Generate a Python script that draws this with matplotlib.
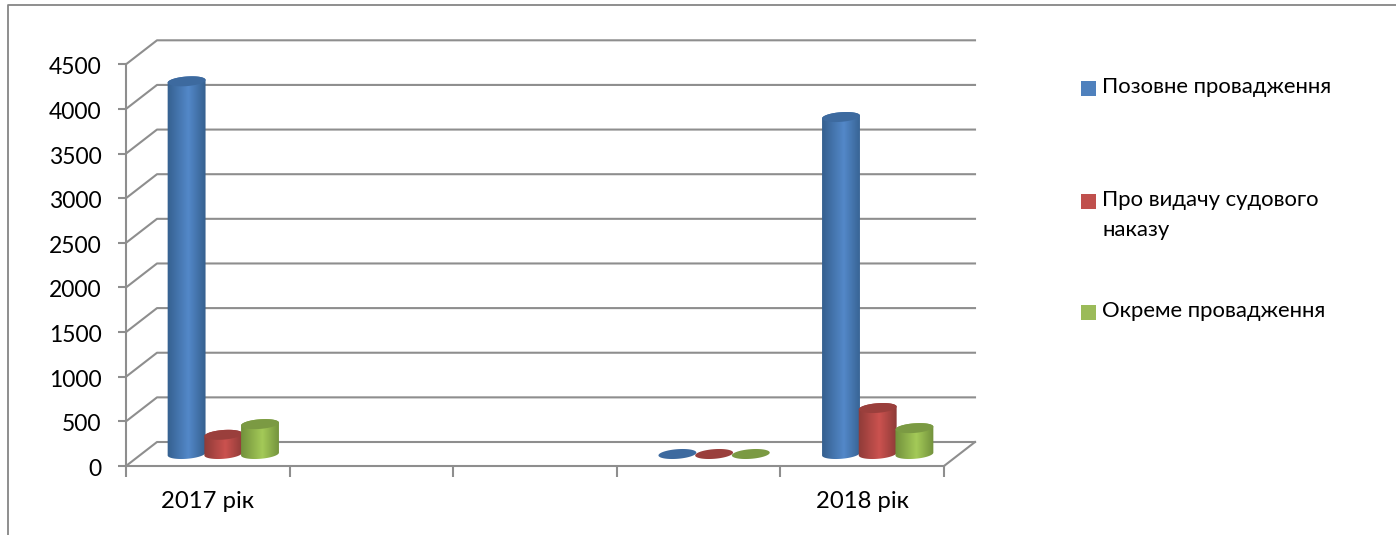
import matplotlib
matplotlib.use("Agg")
import matplotlib.pyplot as plt
import numpy as np
from matplotlib.colors import LinearSegmentedColormap
from matplotlib.lines import Line2D
from matplotlib.patches import PathPatch, Polygon, Rectangle
from matplotlib.path import Path
from matplotlib.transforms import ScaledTranslation

plt.rcParams["font.family"] = ["Lato", "Noto Sans", "DejaVu Sans"]

# five category slots, only the first and last are labelled
categories = ["2017 рік", "", "", "", "2018 рік"]
series_names = ["Позовне провадження", "Про видачу судового\nнаказу", "Окреме провадження"]
pozovne = [4175, np.nan, np.nan, 0, 3775]
nakaz = [215, np.nan, np.nan, 0, 515]
okreme = [335, np.nan, np.nan, 0, 290]
y_ticks = [0, 500, 1000, 1500, 2000, 2500, 3000, 3500, 4000, 4500]

W, H = 1396, 535
X0, X1 = 126, 944
Y0, Y1 = 466, 64.3
PX_X = (X1 - X0) / 5.0
PX_Y = (Y0 - Y1) / 4500.0
DEPTH_X, DEPTH_Y = 31, 24
GREY = "#8e8e8e"

# (edge, centre, top)
COLOURS = [
    ("#35608f", "#5388c9", "#3d6a9f"),
    ("#8e3b38", "#cb524f", "#9a3f3c"),
    ("#72913c", "#a4ca58", "#7b9a43"),
]
LEGEND_COLOURS = ["#4f81bd", "#c0504d", "#9bbb59"]
LEGEND_Y = [88, 201, 312]

fig = plt.figure(figsize=(W / 100, H / 100), dpi=100)
ax = fig.add_axes([X0 / W, 1 - Y0 / H, (X1 - X0) / W, (Y0 - Y1) / H])
ax.patch.set_alpha(0)


def px_to_data(dx, dy):
    return dx / PX_X, dy / PX_Y


def ellipse_pts(cx, val, t):
    # tilted ellipse, worked out in pixels so it keeps its shape on both scales
    a, b, tilt = 19.0, 4.8, np.radians(4.5)
    dx = a * np.cos(t) * np.cos(tilt) - b * np.sin(t) * np.sin(tilt)
    dy = a * np.cos(t) * np.sin(tilt) + b * np.sin(t) * np.cos(tilt)
    ddx, ddy = px_to_data(dx, dy)
    return np.column_stack([cx + ddx, val + ddy])


def draw_cylinder(cx, val, base, colours, z):
    edge, centre, top = colours
    if val > 0:
        lower = ellipse_pts(cx, base, np.linspace(np.pi, 2 * np.pi, 40))
        upper = ellipse_pts(cx, base + val, np.linspace(0, np.pi, 40))
        verts = np.vstack([lower, upper, lower[:1]])
        codes = [Path.MOVETO] + [Path.LINETO] * (len(verts) - 2) + [Path.CLOSEPOLY]
        body = PathPatch(Path(verts, codes), transform=ax.transData, fc="none", ec="none")
        ax.add_patch(body)
        half = 19.5 / PX_X
        cmap = LinearSegmentedColormap.from_list("c", [(0, edge), (0.55, centre), (1, edge)])
        im = ax.imshow(
            np.linspace(0, 1, 64).reshape(1, -1),
            cmap=cmap,
            extent=(cx - half, cx + half, 0, base + val + 200),
            aspect="auto",
            zorder=z,
        )
        im.set_clip_path(body)
    cap = ellipse_pts(cx, base + val, np.linspace(0, 2 * np.pi, 60))
    ax.add_patch(Polygon(cap, closed=True, fc=top, ec="none", zorder=z + 0.1))


ax.set_xlim(0, 5)
ax.set_ylim(0, 4500)

# back wall gridlines and the slanted side wall
off_x, off_y = px_to_data(DEPTH_X, DEPTH_Y)
for v in y_ticks:
    ax.plot([0, off_x, 5 + off_x], [v, v + off_y, v + off_y], color=GREY, lw=1.5,
            clip_on=False, zorder=1, solid_joinstyle="round")
ax.plot([5, 5 + off_x], [0, off_y], color=GREY, lw=1.5, clip_on=False, zorder=1)

bar_w = 36.7 / PX_X
series = [pozovne, nakaz, okreme]
for s, values in enumerate(series):
    for i, v in enumerate(values):
        if np.isnan(v):
            continue
        cx = i + 0.5 + (s - 1) * bar_w + off_x / 2
        draw_cylinder(cx, v, off_y / 2, COLOURS[s], 3 + s)

ax.set_xlim(0, 5)
ax.set_ylim(0, 4500)

for side in ("top", "right"):
    ax.spines[side].set_visible(False)
for side in ("left", "bottom"):
    ax.spines[side].set_color(GREY)
    ax.spines[side].set_linewidth(1.5)

ax.set_yticks(y_ticks)
ax.set_xticks(range(6))
ax.set_xticklabels([])
ax.tick_params(axis="y", length=6, width=1.5, color=GREY, labelsize=16.5, pad=11.5, labelcolor="black")
ax.tick_params(axis="x", length=8, width=1.5, color=GREY)
nudge = ScaledTranslation(0, -1.5 / 100, fig.dpi_scale_trans)
for lab in ax.get_yticklabels():
    lab.set_transform(lab.get_transform() + nudge)

for i, label in enumerate(categories):
    if label:
        fig.text((X0 + (i + 0.5) * PX_X) / W, 1 - 502 / H, label, fontsize=17.2,
                 ha="center", va="center")

# legend, laid out by hand because the spacing in the original is uneven
for name, colour, y in zip(series_names, LEGEND_COLOURS, LEGEND_Y):
    fig.add_artist(Rectangle((1081 / W, 1 - (y + 7.5) / H), 15 / W, 15 / H,
                             transform=fig.transFigure, fc=colour, ec="none"))
    fig.text(1102 / W, 1 - (y - 11) / H, name, fontsize=15.9, va="top", ha="left",
             linespacing=1.65)

# outer frame of the pasted chart
fig.add_artist(Line2D([8 / W, 8 / W, 1], [0, 1 - 5 / H, 1 - 5 / H],
                      transform=fig.transFigure, color="#868686", lw=1.3))

fig.savefig("out.png", dpi=100)
